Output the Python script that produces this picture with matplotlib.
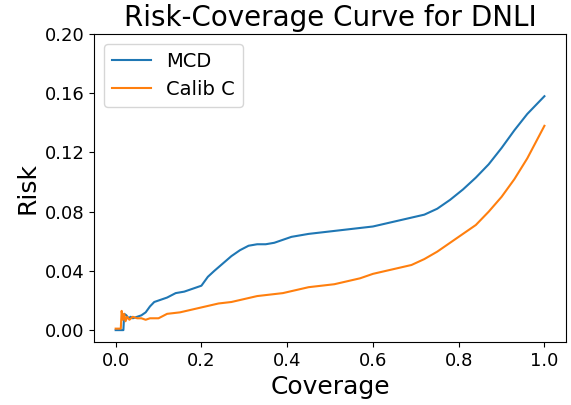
import matplotlib.pyplot as plt

# coverage / risk
mcd_x = [0.000, 0.018, 0.020, 0.025, 0.030, 0.035, 0.040, 0.050, 0.060, 0.070,
         0.080, 0.090, 0.100, 0.120, 0.140, 0.160, 0.180, 0.200, 0.215, 0.230,
         0.250, 0.270, 0.290, 0.310, 0.330, 0.350, 0.370, 0.390, 0.410, 0.430,
         0.450, 0.480, 0.510, 0.540, 0.570, 0.600, 0.630, 0.660, 0.690, 0.720,
         0.750, 0.780, 0.810, 0.840, 0.870, 0.900, 0.930, 0.960, 0.980, 1.000]
mcd_y = [0.000, 0.000, 0.011, 0.010, 0.008, 0.009, 0.008, 0.009, 0.010, 0.012,
         0.016, 0.019, 0.020, 0.022, 0.025, 0.026, 0.028, 0.030, 0.036, 0.040,
         0.045, 0.050, 0.054, 0.057, 0.058, 0.058, 0.059, 0.061, 0.063, 0.064,
         0.065, 0.066, 0.067, 0.068, 0.069, 0.070, 0.072, 0.074, 0.076, 0.078,
         0.082, 0.088, 0.095, 0.103, 0.112, 0.123, 0.135, 0.146, 0.152, 0.158]

calib_x = [0.000, 0.012, 0.014, 0.017, 0.020, 0.023, 0.027, 0.032, 0.040, 0.050,
           0.060, 0.070, 0.080, 0.100, 0.120, 0.150, 0.180, 0.210, 0.240, 0.270,
           0.300, 0.330, 0.360, 0.390, 0.420, 0.450, 0.480, 0.510, 0.540, 0.570,
           0.600, 0.630, 0.660, 0.690, 0.720, 0.750, 0.780, 0.810, 0.840, 0.870,
           0.900, 0.930, 0.960, 0.980, 1.000]
calib_y = [0.001, 0.001, 0.013, 0.007, 0.011, 0.006, 0.009, 0.007, 0.009, 0.008,
           0.008, 0.007, 0.008, 0.008, 0.011, 0.012, 0.014, 0.016, 0.018, 0.019,
           0.021, 0.023, 0.024, 0.025, 0.027, 0.029, 0.030, 0.031, 0.033, 0.035,
           0.038, 0.040, 0.042, 0.044, 0.048, 0.053, 0.059, 0.065, 0.071, 0.080,
           0.090, 0.102, 0.116, 0.127, 0.138]

fig = plt.figure(figsize=(5.71, 4.05), dpi=100)
ax = fig.add_axes([0.165, 0.156, 0.826, 0.76])
ax.plot(mcd_x, mcd_y, label='MCD')
ax.plot(calib_x, calib_y, label='Calib C')
ax.set_ylim(-0.0079, 0.2)
ax.set_yticks([0.00, 0.04, 0.08, 0.12, 0.16, 0.20])
ax.tick_params(labelsize=13)
ax.set_xlabel('Coverage', fontsize=18)
ax.set_ylabel('Risk', fontsize=18)
ax.set_title('Risk-Coverage Curve for DNLI', fontsize=20)
ax.legend(loc='upper left', fontsize=14)
fig.savefig('out.png')
